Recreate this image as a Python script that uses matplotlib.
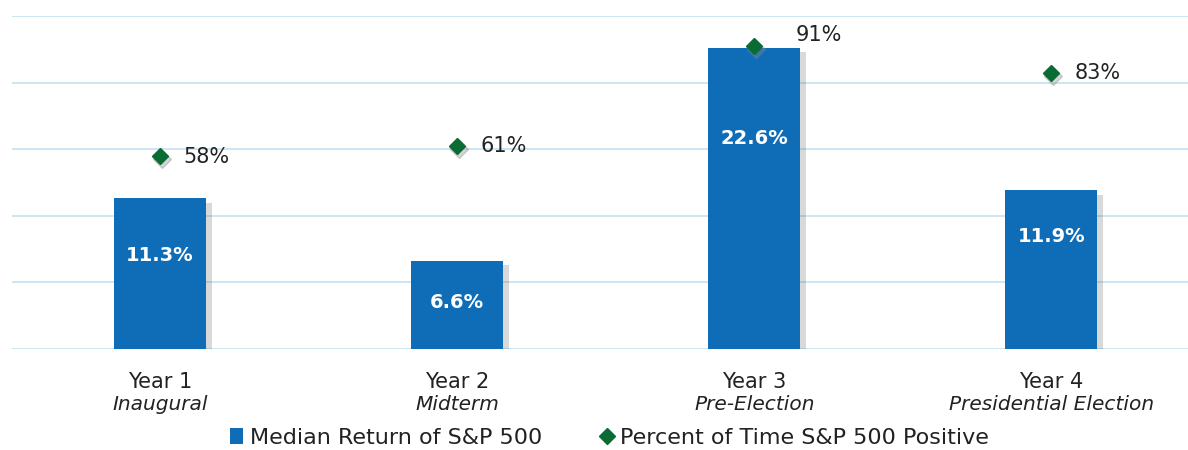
import matplotlib
matplotlib.use("Agg")
import matplotlib.pyplot as plt
import matplotlib.patheffects as pe
from matplotlib.transforms import offset_copy
from matplotlib.lines import Line2D
from matplotlib.patches import Patch

# data
years = ["Year 1", "Year 2", "Year 3", "Year 4"]
phases = ["Inaugural", "Midterm", "Pre-Election", "Presidential Election"]
median_return = [11.3, 6.6, 22.6, 11.9]
pct_positive = [58, 61, 91, 83]

bar_color = "#0f6db8"
dot_color = "#0b6b34"
grid_color = "#c8e4f3"
text_color = "#222222"

plt.rcParams["font.family"] = ["DejaVu Sans"]

fig = plt.figure(figsize=(11.88, 4.5), dpi=100)
ax = fig.add_axes([11.5 / 1188, 101 / 450, 1188.5 / 1188, 333 / 450])
ax2 = ax.twinx()

x = list(range(len(years)))
shadow = [pe.SimplePatchShadow(offset=(4, -3), alpha=0.2, shadow_rgbFace="#444444"), pe.Normal()]
bars = ax.bar(x, median_return, width=0.31, color=bar_color, zorder=3)
for b in bars:
    b.set_path_effects(shadow)

ax.set_xlim(-0.5, 3.5)
ax.set_ylim(0, 25)
ax.set_yticks([0, 5, 10, 15, 20, 25])
ax.yaxis.grid(True, color=grid_color, linewidth=1.3)
ax.set_axisbelow(True)
ax.tick_params(left=False, bottom=False, labelleft=False, labelbottom=False)
for s in ax.spines.values():
    s.set_visible(False)

# value labels inside the bars
label_frac = [0.62, 0.53, 0.70, 0.71]
for i, v in enumerate(median_return):
    ax.text(i, v * label_frac[i], f"{v}%", ha="center", va="center",
            color="white", fontsize=14, fontweight="bold", zorder=5)

ax2.set_ylim(0, 100)
shadow_tr = offset_copy(ax2.transData, fig=fig, x=2, y=-3, units="dots")
ax2.plot(x, pct_positive, linestyle="none", marker="D", markersize=9,
         color="#888888", alpha=0.35, transform=shadow_tr, zorder=5, clip_on=False)
ax2.plot(x, pct_positive, linestyle="none", marker="D", markersize=8,
         color=dot_color, zorder=6, clip_on=False)
ax2.tick_params(right=False, labelright=False)
for s in ax2.spines.values():
    s.set_visible(False)
label_dx = [17, 17, 30, 17]
label_dy = [-1, 0, 8, 0]
for i, p in enumerate(pct_positive):
    ax2.annotate(f"{p}%", (i, p), xytext=(label_dx[i], label_dy[i]), textcoords="offset points",
                 ha="left", va="center", fontsize=15, color=text_color, annotation_clip=False)

# category labels
trans = ax.get_xaxis_transform()
for i in x:
    ax.text(i, -0.07, years[i], transform=trans, ha="center", va="top",
            fontsize=15, color=text_color)
    ax.text(i, -0.137, phases[i], transform=trans, ha="center", va="top",
            fontsize=14.5, style="italic", color=text_color)

handles = [Patch(facecolor=bar_color, label="Median Return of S&P 500"),
           Line2D([], [], linestyle="none", marker="D", markersize=8, color=dot_color,
                  label="Percent of Time S&P 500 Positive")]
fig.legend(handles=handles, loc="center", bbox_to_anchor=(0.513, 0.027), ncol=2,
           frameon=False, fontsize=16, handlelength=0.6, handletextpad=0.3,
           columnspacing=2.6, labelcolor=text_color)

fig.savefig("out.png", dpi=100)
